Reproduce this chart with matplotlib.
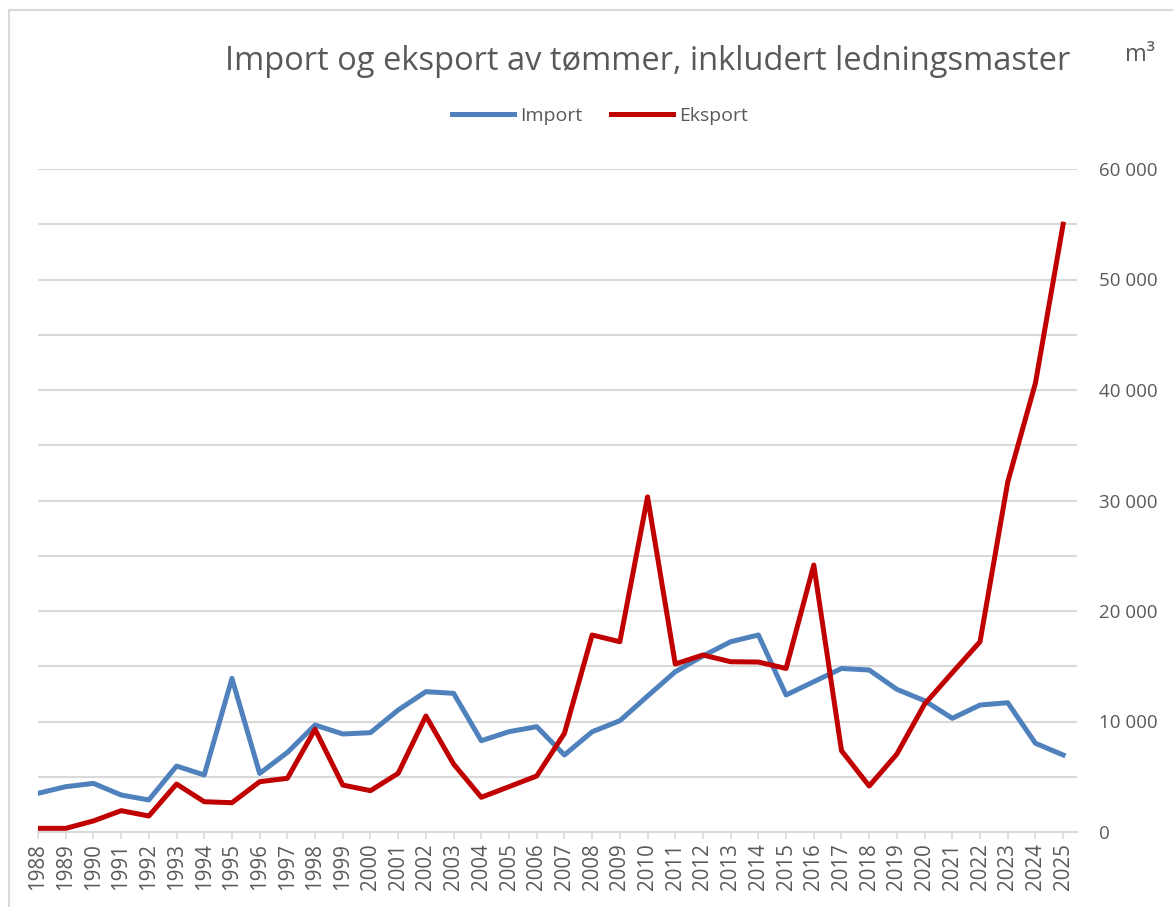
import matplotlib
matplotlib.use('Agg')
import matplotlib.pyplot as plt
from matplotlib.lines import Line2D
from matplotlib.ticker import FuncFormatter, MultipleLocator

years = list(range(1988, 2026))

# Import of timber, m3
import_m3 = [3500, 4100, 4400, 3350, 2900, 5970, 5160, 13900, 5300, 7200,
             9680, 8870, 8990, 11040, 12700, 12550, 8260, 9080, 9530, 6970,
             9070, 10070, 12300, 14500, 15930, 17220, 17830, 12400, 13600, 14800,
             14660, 12910, 11880, 10290, 11490, 11700, 8030, 6970]

# Export of timber, m3
export_m3 = [330, 330, 1000, 1930, 1450, 4340, 2740, 2650, 4550, 4860,
             9290, 4250, 3740, 5310, 10500, 6150, 3140, 4100, 5070, 8930,
             17830, 17220, 30330, 15200, 16020, 15410, 15380, 14800, 24160, 7360,
             4160, 7060, 11580, 14420, 17220, 31670, 40630, 55000]

title = 'Import og eksport av tømmer, inkludert ledningsmaster'
unit = 'm³'

text_color = '#595959'
grid_color = '#d9d9d9'
font = 'Open Sans'

plt.rcParams['font.family'] = [font, 'DejaVu Sans']

fig = plt.figure(figsize=(11.74, 9.07), dpi=100)
ax = fig.add_axes([38 / 1174, 1 - 832 / 907, (1077 - 38) / 1174, (832 - 169) / 907])

ax.plot(years, import_m3, color='#4f81bd', lw=3.6, label='Import', solid_joinstyle='round')
ax.plot(years, export_m3, color='#c00000', lw=3.6, label='Eksport', solid_joinstyle='round')

ax.set_xlim(1988, 2025.5)
ax.set_ylim(0, 60000)

# y axis on the right, gridlines every 5000, labels every 10000
ax.yaxis.tick_right()
ax.yaxis.set_major_locator(MultipleLocator(10000))
ax.yaxis.set_minor_locator(MultipleLocator(5000))
ax.yaxis.set_major_formatter(FuncFormatter(lambda v, p: '{:,.0f}'.format(v).replace(',', ' ')))
ax.grid(axis='y', which='both', color=grid_color, lw=1.5)
ax.set_axisbelow(True)
ax.tick_params(axis='y', which='both', length=0, pad=16, labelsize=13.5, labelcolor=text_color)

ax.set_xticks(years)
ax.set_xticklabels([str(y) for y in years], rotation=90)
ax.tick_params(axis='x', length=5, width=1.2, color=grid_color, labelsize=14.8,
               labelcolor=text_color, pad=3)

for side in ['top', 'left', 'right']:
    ax.spines[side].set_visible(False)
ax.spines['bottom'].set_color(grid_color)
ax.spines['bottom'].set_linewidth(1.5)

fig.text(648 / 1174, 1 - 61 / 907, title, ha='center', va='center',
         fontsize=23.5, color=text_color)
fig.text(1140 / 1174, 1 - 55 / 907, unit, ha='center', va='center',
         fontsize=17, color=text_color)

leg = fig.legend(loc='center', bbox_to_anchor=(600 / 1174, 1 - 116 / 907), ncol=2,
                 frameon=False, fontsize=14, handlelength=3.2, handletextpad=0.3,
                 columnspacing=1.5)
for t in leg.get_texts():
    t.set_color(text_color)

# thin chart frame on the left and top
fig.add_artist(Line2D([9 / 1174, 9 / 1174], [0, 1 - 10 / 907], color=grid_color, lw=1.5))
fig.add_artist(Line2D([9 / 1174, 1172 / 1174], [1 - 10 / 907, 1 - 10 / 907], color=grid_color, lw=1.5))

fig.savefig('out.png', dpi=100)
